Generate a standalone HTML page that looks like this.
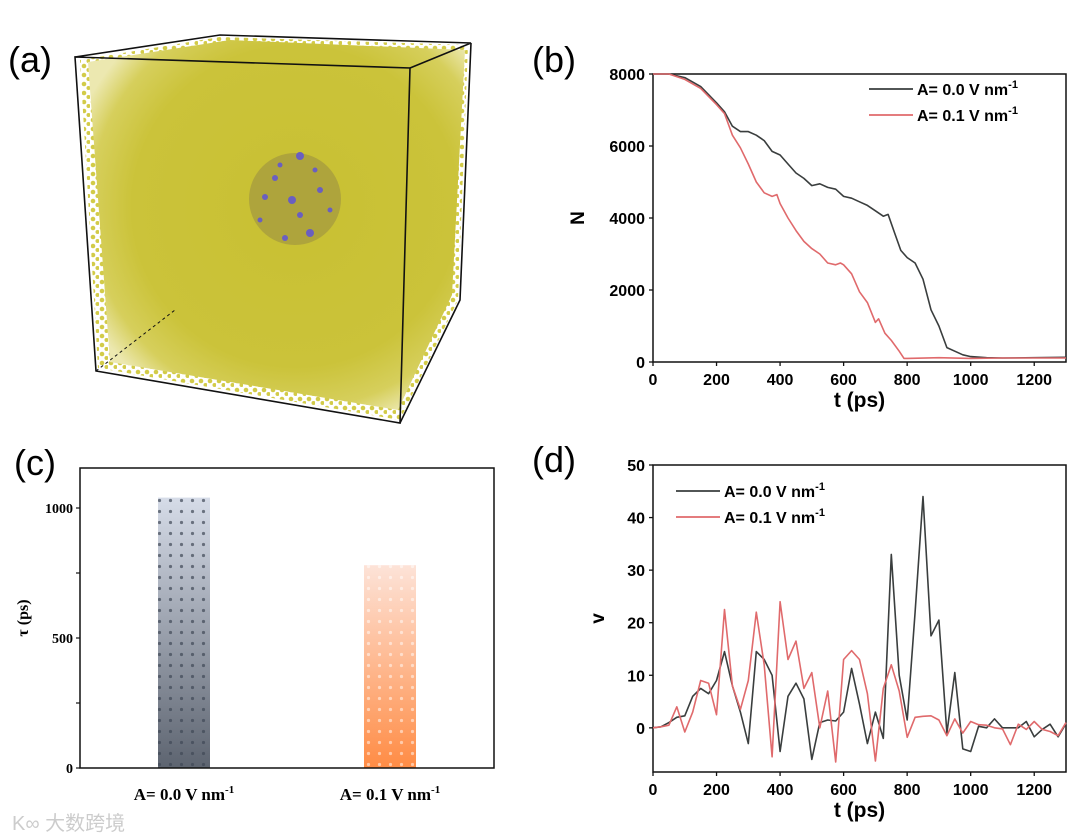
<!DOCTYPE html>
<html><head><meta charset="utf-8"><style>
html,body{margin:0;padding:0;background:#fff;width:1080px;height:839px;overflow:hidden}
svg{display:block}
.s{font-family:"Liberation Sans",sans-serif;font-weight:bold}
.r{font-family:"Liberation Serif",serif;font-weight:bold}
</style></head><body>
<svg id="fig" width="1080" height="839" viewBox="0 0 1080 839" xmlns="http://www.w3.org/2000/svg">
<defs>
<radialGradient id="cubeg" cx="0.55" cy="0.45" r="0.62">
<stop offset="0" stop-color="#c8c032"/><stop offset="0.7" stop-color="#cbc33a"/><stop offset="0.88" stop-color="#d6cf5c"/><stop offset="1" stop-color="#ece8b0"/>
</radialGradient>
<pattern id="dots" width="9" height="9" patternUnits="userSpaceOnUse"><circle cx="3" cy="3" r="2.3" fill="#d2cb48"/><circle cx="7.5" cy="7" r="2" fill="#d2cb48"/></pattern>
<linearGradient id="gbar" x1="0" y1="0" x2="0" y2="1"><stop offset="0" stop-color="#d6dce8"/><stop offset="1" stop-color="#5d6470"/></linearGradient>
<linearGradient id="obar" x1="0" y1="0" x2="0" y2="1"><stop offset="0" stop-color="#fde3d8"/><stop offset="1" stop-color="#ff8c45"/></linearGradient>
<pattern id="bdots" width="11" height="11" patternUnits="userSpaceOnUse"><circle cx="5.5" cy="5.5" r="1.6" fill="#3f4755" opacity="0.7"/></pattern>
<pattern id="odots" width="11" height="11" patternUnits="userSpaceOnUse"><circle cx="5.5" cy="5.5" r="1.6" fill="#fff" opacity="0.5"/></pattern>
</defs>

<!-- panel a -->
<g>
<text x="8" y="72" font-family="Liberation Sans,sans-serif" font-size="36">(a)</text>
<polygon points="80,60 220,37 468,45 458,300 400,420 98,368" fill="url(#dots)"/>
<polygon points="88,62 230,40 465,50 452,295 398,410 110,362" fill="url(#cubeg)"/>
<circle cx="295" cy="199" r="46" fill="#aea43c"/>
<g fill="#6a5fc0">
<circle cx="300" cy="156" r="4"/><circle cx="275" cy="178" r="3"/><circle cx="292" cy="200" r="4"/><circle cx="310" cy="233" r="4"/><circle cx="265" cy="197" r="3"/><circle cx="320" cy="190" r="3"/><circle cx="285" cy="238" r="3"/><circle cx="300" cy="215" r="3"/><circle cx="330" cy="210" r="2.5"/><circle cx="260" cy="220" r="2.5"/><circle cx="315" cy="170" r="2.5"/><circle cx="280" cy="165" r="2.5"/>
</g>
<g fill="none" stroke="#111" stroke-width="1.6">
<polygon points="75,57 410,68 400,423 96,371"/>
<polyline points="75,57 220,35 471,43 410,68"/>
<polyline points="471,43 460,300 400,423"/>
<polyline points="96,371 175,310" stroke-dasharray="3,3" stroke-width="1"/>
</g>
</g>

<!-- panel b -->
<g>
<text x="532" y="72" font-family="Liberation Sans,sans-serif" font-size="36">(b)</text>
<g id="bplot"></g>
</g>

<!-- panel c -->
<g>
<text x="14" y="475" font-family="Liberation Sans,sans-serif" font-size="36">(c)</text>
<g id="cplot"></g>
</g>

<!-- panel d -->
<g>
<text x="532" y="472" font-family="Liberation Sans,sans-serif" font-size="36">(d)</text>
<g id="dplot"></g>
</g>

<text x="12" y="830" font-family="Liberation Sans,'Noto Sans CJK SC',sans-serif" font-size="20" fill="#ccc">K∞ 大数跨境</text>
</svg>
<script>
// ---------- data ----------
var bTime0 = [0,50,100,150,200,225,250,275,300,325,350,375,400,425,450,475,500,525,550,575,600,625,650,675,700,725,740,760,780,800,825,850,875,900,925,950,975,1000,1050,1100,1200,1300];
var bN0 = [8000,8000,7900,7650,7200,6950,6550,6400,6400,6300,6150,5850,5750,5500,5250,5100,4900,4950,4850,4800,4600,4550,4450,4350,4200,4050,4100,3600,3100,2900,2750,2300,1450,1000,400,300,200,150,120,110,120,130];
var bTime1 = [0,50,100,150,200,225,250,275,300,325,350,375,390,400,425,450,475,500,525,550,575,590,600,625,650,675,700,710,730,750,775,790,800,900,1000,1100,1300];
var bN1 = [8000,8000,7850,7600,7150,6900,6300,5950,5500,5000,4700,4600,4650,4400,4000,3650,3350,3150,3000,2750,2700,2750,2700,2450,1950,1650,1100,1200,800,600,300,100,100,120,100,110,110];
var bXTicks = [0,200,400,600,800,1000,1200];
var bYTicks = [0,2000,4000,6000,8000];

var cCategories = ["A= 0.0 V nm", "A= 0.1 V nm"];
var cValues = [1040, 780];
var cYTicks = [0,500,1000];

var dTime = [0,25,50,75,100,125,150,175,200,225,250,275,300,325,350,375,400,425,450,475,500,525,550,575,600,625,650,675,700,725,750,775,800,825,850,875,900,925,950,975,1000,1025,1050,1075,1100,1125,1150,1175,1200,1225,1250,1275,1300];
var dV0 = [0,0.2,1,2,2.3,6,7.5,6.5,9,14.5,8,3,-3,14.5,13,10,-4.5,6,8.5,5.5,-6,1,1.5,1.3,3,11.3,4.5,-3,3,-2,33,10,1.5,22,44,17.5,20.5,-1,10.5,-4,-4.5,0.3,0,1.7,0,0,0,1.2,-1.7,-0.3,0.7,-1.7,0.8];
var dV1 = [0,0.2,0.5,4,-0.8,3,9,8.5,2.5,22.5,8,3.5,9,22,12,-5.5,24,13,16.5,7.5,10.5,0,7,-6.5,13,14.7,13,6.5,-6.3,7.5,12,7,-1.8,2,2.2,2.3,1.5,-1.5,1.7,-1,1.2,0.6,0.5,0,-0.2,-3.2,0.7,-0.3,1.2,-0.3,-0.7,-1.5,1];
var dXTicks = [0,200,400,600,800,1000,1200];
var dYTicks = [0,10,20,30,40,50];

var NS = "http://www.w3.org/2000/svg";
function mk(parent, tag, attrs, txt){
  var e = document.createElementNS(NS, tag);
  for (var k in attrs) e.setAttribute(k, attrs[k]);
  if (txt !== undefined) e.textContent = txt;
  parent.appendChild(e);
  return e;
}
function linear(d0,d1,r0,r1){ return function(v){ return r0 + (v-d0)/(d1-d0)*(r1-r0); }; }

function lineChart(g, cfg){
  var x = linear(cfg.xMin,cfg.xMax,cfg.L,cfg.R), y = linear(cfg.yMin,cfg.yMax,cfg.B,cfg.T);
  var frame = mk(g,'rect',{x:cfg.L,y:cfg.T,width:cfg.R-cfg.L,height:cfg.B-cfg.T,fill:'none',stroke:'#111','stroke-width':1.5});
  
  
  cfg.xTicks.forEach(function(t){
    var px = x(t);
    mk(g,'line',{x1:px,y1:cfg.B,x2:px,y2:cfg.B+4,stroke:'#111','stroke-width':1.3});
    var lb = mk(g,'text',{x:px,y:cfg.B+23,'text-anchor':'middle','class':'s','font-size':16},String(t));
    
    
  });
  cfg.yTicks.forEach(function(t){
    var py = y(t);
    mk(g,'line',{x1:cfg.L-4,y1:py,x2:cfg.L,y2:py,stroke:'#111','stroke-width':1.3});
    var lb = mk(g,'text',{x:cfg.L-8,y:py+6,'text-anchor':'end','class':'s','font-size':16},String(t));
    
    
  });
  var xt = mk(g,'text',{x:(cfg.L+cfg.R)/2,y:cfg.B+45,'text-anchor':'middle','class':'s','font-size':21},'t (ps)');
  
  
  var yt = mk(g,'text',{x:cfg.yTitleX,y:(cfg.T+cfg.B)/2+6,'text-anchor':'middle','class':'s','font-size':19,transform:'rotate(-90 '+cfg.yTitleX+' '+((cfg.T+cfg.B)/2)+')'},cfg.yTitle);
  
  
  cfg.series.forEach(function(s,i){
    var d = s.xs.map(function(v,j){ return (j?'L':'M')+x(v).toFixed(1)+' '+y(s.ys[j]).toFixed(1); }).join(' ');
    var p = mk(g,'path',{d:d,fill:'none',stroke:s.color,'stroke-width':1.6,'stroke-linejoin':'round'});
    
    
    var ly = cfg.legY + i*26;
    mk(g,'line',{x1:cfg.legX,y1:ly,x2:cfg.legX+44,y2:ly,stroke:s.color,'stroke-width':1.8});
    var lt = mk(g,'text',{x:cfg.legX+48,y:ly+6,'class':'s','font-size':16},'');
    
    
    mk(lt,'tspan',{},s.label);
    mk(lt,'tspan',{dy:-7,'font-size':11},'-1');
  });
}

lineChart(document.getElementById('bplot'),{
  L:653,R:1066,T:74,B:362,xMin:0,xMax:1300,yMin:0,yMax:8000,
  xTicks:bXTicks,yTicks:bYTicks,yTitle:'N',yTitleX:578,legX:869,legY:89,
  series:[{xs:bTime0,ys:bN0,color:'#3a3e3e',label:'A= 0.0 V nm',name:'series-a00'},
          {xs:bTime1,ys:bN1,color:'#e06a6c',label:'A= 0.1 V nm',name:'series-a01'}]
});
lineChart(document.getElementById('dplot'),{
  L:653,R:1066,T:465,B:772,xMin:0,xMax:1300,yMin:-8.4,yMax:50,
  xTicks:dXTicks,yTicks:dYTicks,yTitle:'v',yTitleX:598,legX:676,legY:491,
  series:[{xs:dTime,ys:dV0,color:'#3a3e3e',label:'A= 0.0 V nm',name:'series-a00'},
          {xs:dTime,ys:dV1,color:'#e06a6c',label:'A= 0.1 V nm',name:'series-a01'}]
});

// panel c bar chart
(function(){
  var g = document.getElementById('cplot');
  var L=80,R=494,T=468,B=768;
  var y = linear(0,1000,B,508);
  var centers = [184,390], bw = 52;
  var fills = [['url(#gbar)','url(#bdots)'],['url(#obar)','url(#odots)']];
  cValues.forEach(function(v,i){
    var top = y(v);
    var r = mk(g,'rect',{x:centers[i]-bw/2,y:top,width:bw,height:B-top,fill:fills[i][0]});
    
    
    mk(g,'rect',{x:centers[i]-bw/2,y:top,width:bw,height:B-top,fill:fills[i][1]});
    var lb = mk(g,'text',{x:centers[i],y:B+32,'text-anchor':'middle','class':'r','font-size':17},'');
    
    
    mk(lb,'tspan',{},cCategories[i]);
    mk(lb,'tspan',{dy:-7,'font-size':11},'-1');
  });
  var f = mk(g,'rect',{x:L,y:T,width:R-L,height:B-T,fill:'none',stroke:'#111','stroke-width':1.5});
  
  
  for (var t=0;t<=1000;t+=250){
    var py=y(t);
    mk(g,'line',{x1:L-4,y1:py,x2:L,y2:py,stroke:'#111','stroke-width':1.2});
  }
  cYTicks.forEach(function(t){
    var lb = mk(g,'text',{x:L-7,y:y(t)+5,'text-anchor':'end','class':'r','font-size':14},String(t));
    
    
  });
  var yt = mk(g,'text',{x:28,y:618,'text-anchor':'middle','class':'r','font-size':16,transform:'rotate(-90 28 618)'},'τ (ps)');
  
  
})();
</script>
</body></html>
